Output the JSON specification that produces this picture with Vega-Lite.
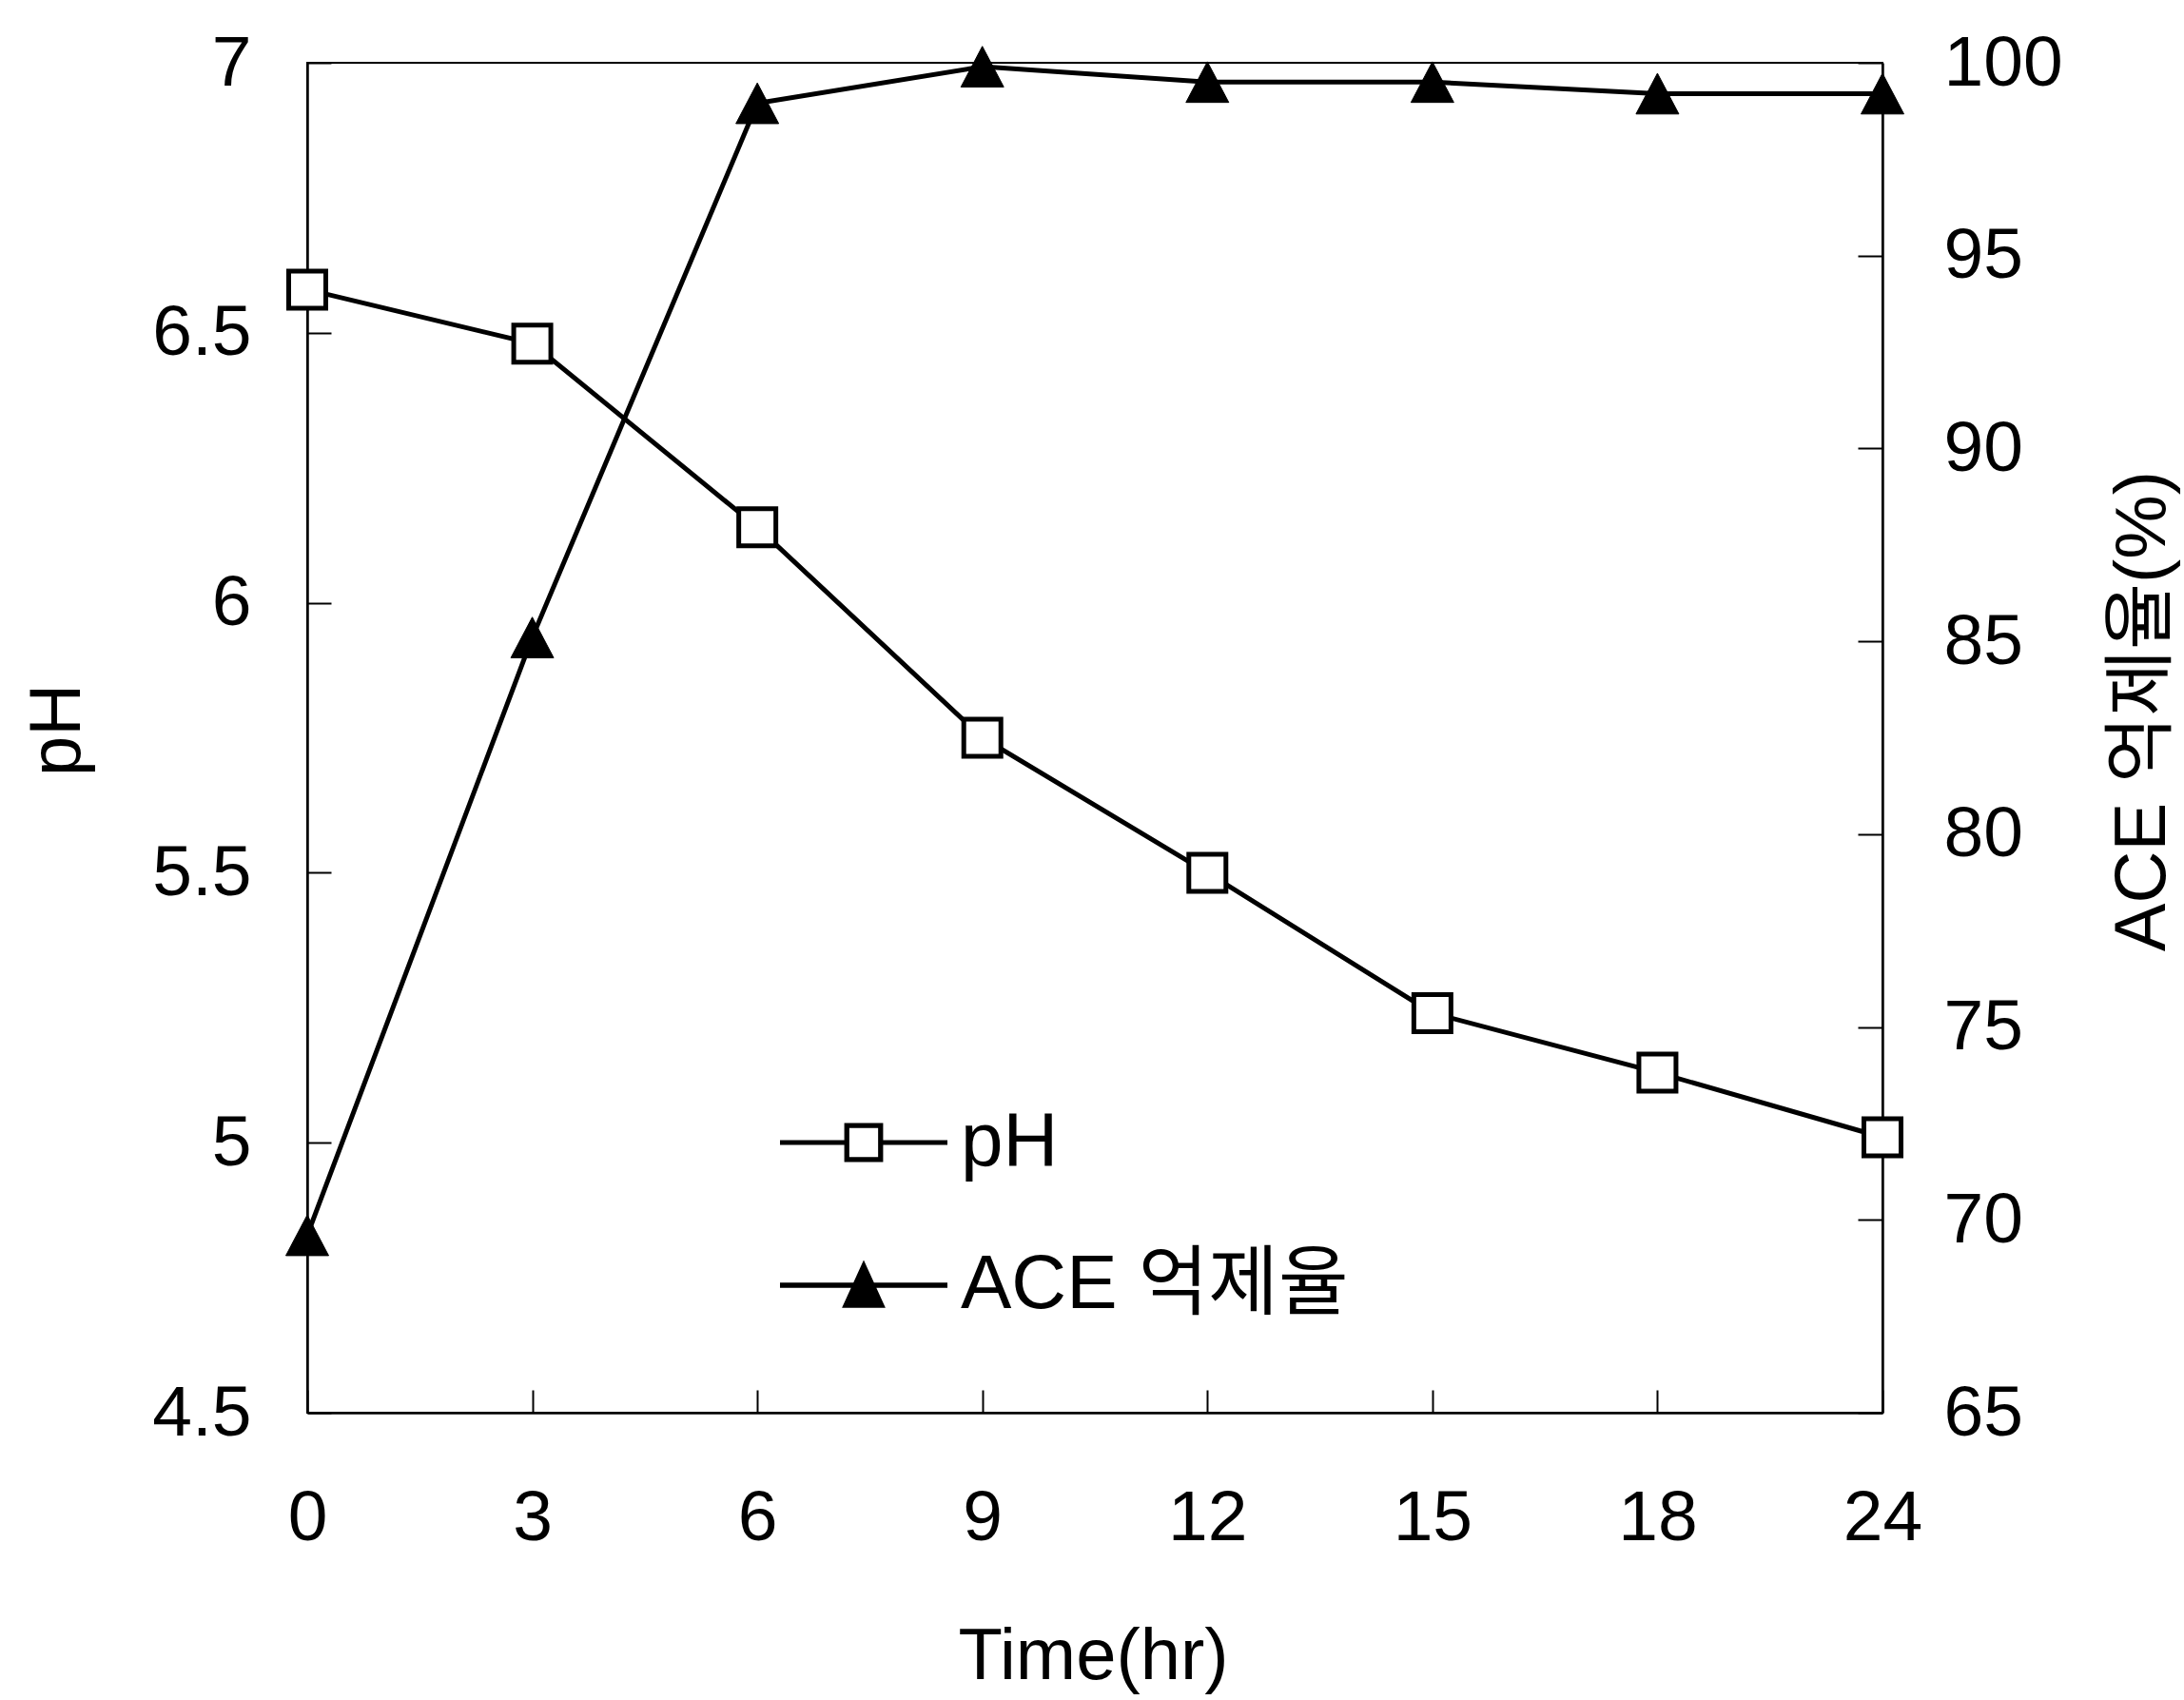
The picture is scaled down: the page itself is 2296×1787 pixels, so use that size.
{
  "$schema": "https://vega.github.io/schema/vega-lite/v6.json",
  "autosize": {"type": "none"},
  "width": 1656,
  "height": 1419,
  "padding": {"left": 323, "top": 66, "right": 317, "bottom": 302},
  "background": "white",
  "data": {
    "values": [
      {"time": 0, "series": "pH", "value": 6.58},
      {"time": 3, "series": "pH", "value": 6.48},
      {"time": 6, "series": "pH", "value": 6.14},
      {"time": 9, "series": "pH", "value": 5.75},
      {"time": 12, "series": "pH", "value": 5.5},
      {"time": 15, "series": "pH", "value": 5.24},
      {"time": 18, "series": "pH", "value": 5.13},
      {"time": 24, "series": "pH", "value": 5.01},
      {"time": 0, "series": "ACE 억제율", "value": 69.6},
      {"time": 3, "series": "ACE 억제율", "value": 85.1},
      {"time": 6, "series": "ACE 억제율", "value": 98.95},
      {"time": 9, "series": "ACE 억제율", "value": 99.9},
      {"time": 12, "series": "ACE 억제율", "value": 99.5},
      {"time": 15, "series": "ACE 억제율", "value": 99.5},
      {"time": 18, "series": "ACE 억제율", "value": 99.2},
      {"time": 24, "series": "ACE 억제율", "value": 99.2}
    ]
  },
  "encoding": {
    "x": {
      "field": "time",
      "type": "ordinal",
      "scale": {"type": "point", "padding": 0},
      "axis": {
        "title": "Time(hr)",
        "labelAngle": 0,
        "tickSize": -24,
        "labelPadding": 98,
        "titleBaseline": "alphabetic",
        "titleY": 279,
        "titleX": 826
      }
    }
  },
  "layer": [
    {
      "transform": [{"filter": "datum.series === 'pH'"}],
      "encoding": {
        "y": {
          "field": "value",
          "type": "quantitative",
          "scale": {"domain": [4.5, 7], "nice": false, "zero": false},
          "axis": {
            "orient": "left",
            "title": "pH",
            "values": [4.5, 5, 5.5, 6, 6.5, 7],
            "format": "~g",
            "tickSize": -25,
            "labelPadding": 84,
            "titleAngle": 270,
            "titleBaseline": "alphabetic",
            "titleAlign": "center",
            "titleX": -240,
            "titleY": 701
          }
        }
      },
      "layer": [
        {"mark": {"type": "line", "color": "black", "strokeWidth": 5}},
        {
          "mark": {"type": "point", "shape": "square", "filled": true, "fill": "white", "stroke": "black", "strokeWidth": 5, "size": 1521, "opacity": 1}
        },
        {
          "mark": {"type": "point", "filled": true, "fill": "black", "strokeWidth": 0, "size": 0},
          "encoding": {
            "shape": {
              "field": "series",
              "type": "nominal",
              "scale": {
                "domain": ["pH", "ACE 억제율"],
                "range": [
                  "M-1,-0.028H-0.232V0.028H-1ZM0.232,-0.028H1V0.028H0.232ZM-0.232,-0.232H0.232V0.232H-0.232ZM-0.172,-0.172V0.172H0.172V-0.172Z",
                  "M-1,-0.03H1V0.03H-1ZM0,-0.3L0.26,0.27L-0.26,0.27Z"
                ]
              },
              "legend": {
                "title": null,
                "orient": "none",
                "legendX": 497,
                "legendY": 1047,
                "padding": 0,
                "symbolSize": 30976,
                "symbolFillColor": "black",
                "symbolStrokeColor": "transparent",
                "symbolStrokeWidth": 0,
                "symbolOpacity": 1,
                "rowPadding": 22,
                "labelOffset": 14,
                "labelFontSize": 80,
                "labelFont": "Liberation Sans, Noto Sans CJK KR",
                "labelColor": "black",
                "labelLimit": 0
              }
            }
          }
        }
      ]
    },
    {
      "transform": [{"filter": "datum.series === 'ACE 억제율'"}],
      "encoding": {
        "y": {
          "field": "value",
          "type": "quantitative",
          "scale": {"domain": [65, 100], "nice": false, "zero": false},
          "axis": {
            "orient": "right",
            "title": "ACE 억제율(%)",
            "values": [65, 70, 75, 80, 85, 90, 95, 100],
            "tickSize": -26,
            "labelPadding": 90,
            "titleAngle": 270,
            "titleBaseline": "alphabetic",
            "titleAlign": "center",
            "titleX": 296,
            "titleY": 681
          }
        }
      },
      "layer": [
        {"mark": {"type": "line", "color": "black", "strokeWidth": 5}},
        {
          "mark": {"type": "point", "shape": "M0,-0.95L1,0.95L-1,0.95Z", "filled": true, "fill": "black", "stroke": "black", "strokeWidth": 1, "size": 2025, "opacity": 1}
        }
      ]
    }
  ],
  "resolve": {"scale": {"y": "independent"}},
  "config": {
    "view": {"stroke": "black", "strokeWidth": 2},
    "font": "Liberation Sans, Noto Sans CJK KR",
    "axis": {
      "grid": false,
      "domainColor": "black",
      "domainWidth": 2.5,
      "tickColor": "black",
      "tickWidth": 2,
      "labelColor": "black",
      "labelFont": "Liberation Sans, Noto Sans CJK KR",
      "labelFontSize": 75,
      "titleColor": "black",
      "titleFont": "Liberation Sans, Noto Sans CJK KR",
      "titleFontSize": 76,
      "titleFontWeight": "normal",
      "labelOverlap": false,
      "labelFlush": false
    }
  }
}
